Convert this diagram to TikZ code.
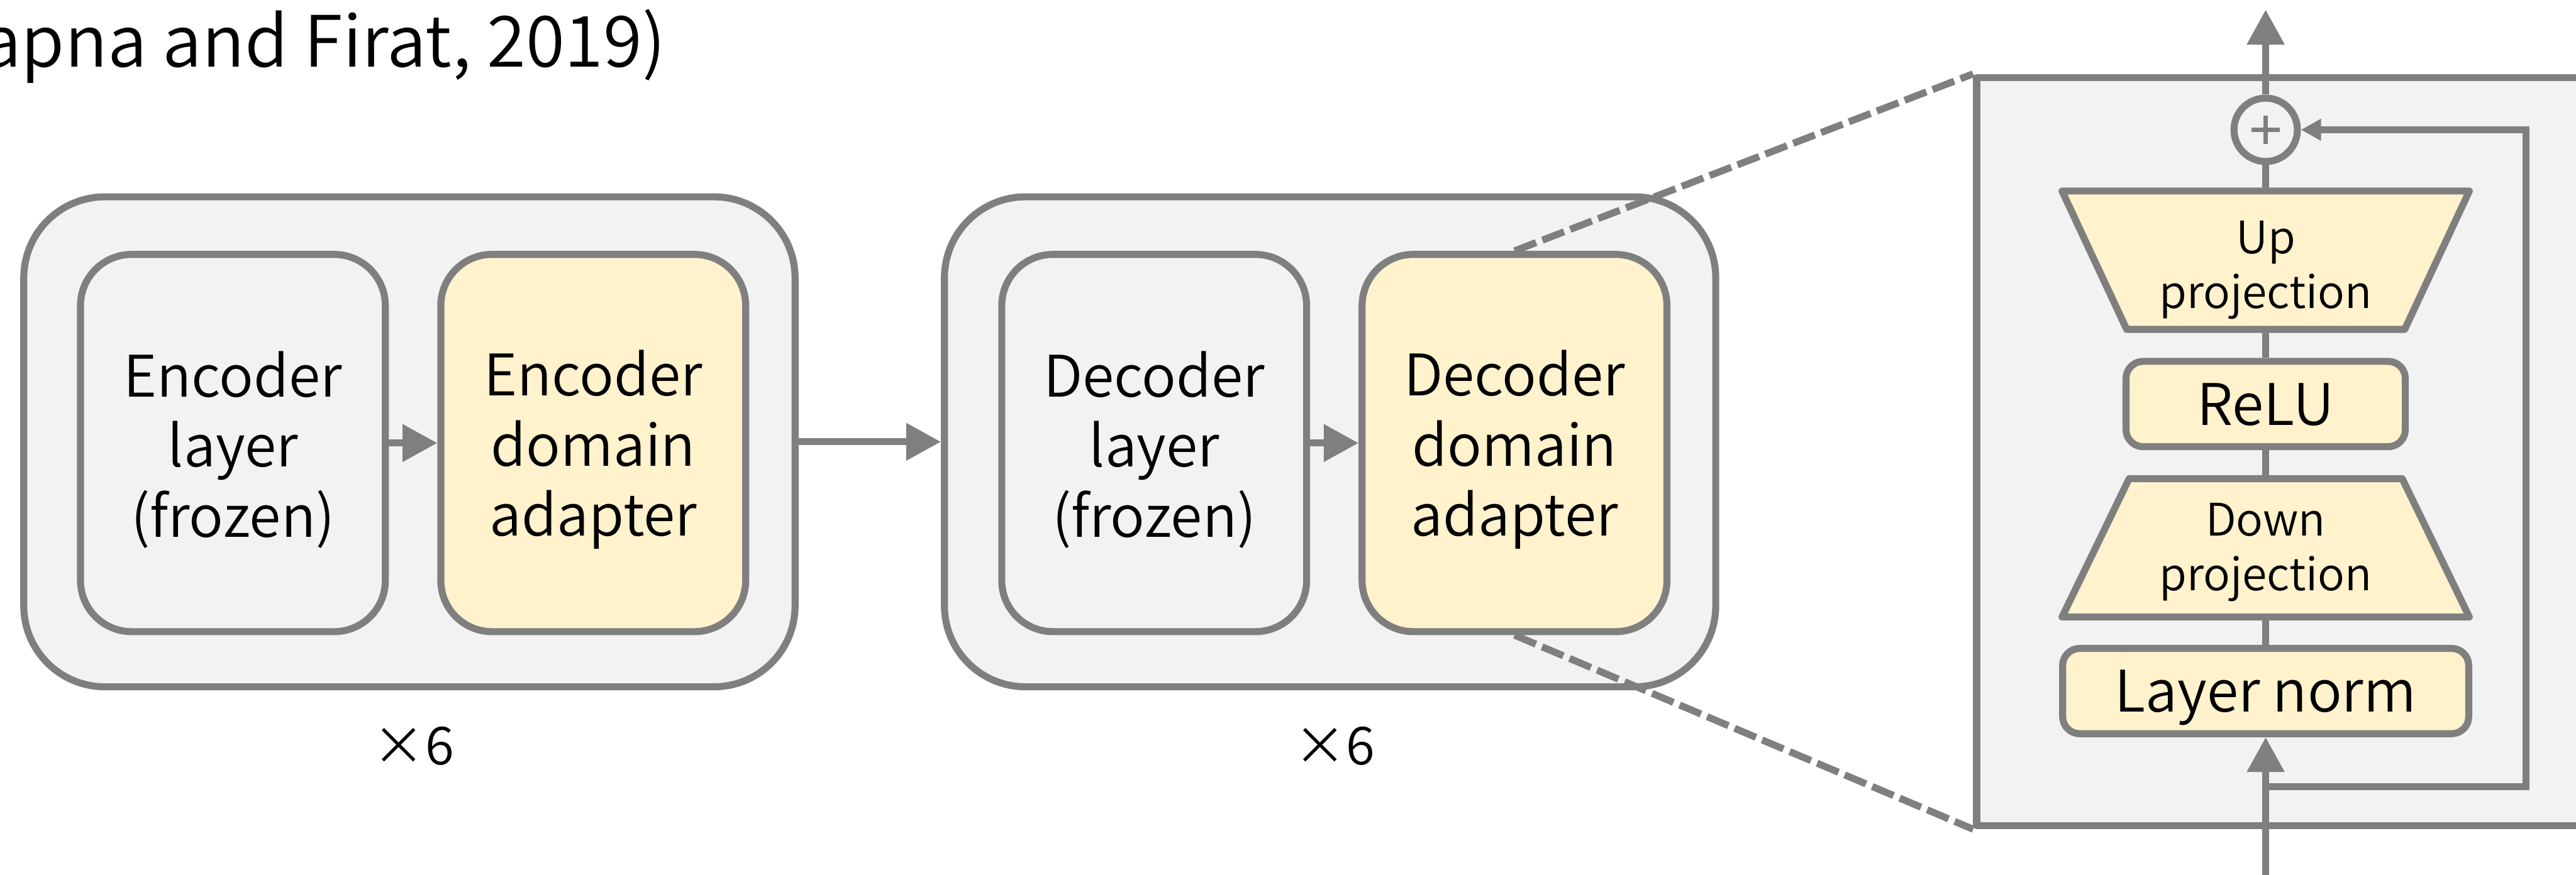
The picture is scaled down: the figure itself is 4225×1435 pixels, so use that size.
\documentclass[tikz,border=0pt]{standalone}
\usepackage{fontspec}
\IfFontExistsTF{Noto Sans CJK KR DemiLight}
  {\setmainfont{Noto Sans CJK KR DemiLight}}
  {\setmainfont{Noto Sans CJK KR}}
\usetikzlibrary{arrows.meta,backgrounds}

\definecolor{edgegray}{RGB}{127,127,127}
\definecolor{panel}{RGB}{242,242,242}
\definecolor{adapt}{RGB}{255,242,204}

\newcommand\txtmain{\fontsize{18.8pt}{23pt}\selectfont}
\newcommand\txtsmall{\fontsize{14.7pt}{18pt}\selectfont}
\newcommand\txtcount{\fontsize{17.2pt}{20pt}\selectfont}
\newcommand\txttitle{\fontsize{23.2pt}{28pt}\selectfont}

\begin{document}
\begin{tikzpicture}[x=0.2pt,y=-0.2pt,
  every node/.style={inner sep=0pt},
  stroke/.style={draw=edgegray, line width=2.3pt},
  block/.style={stroke, fill=panel, rounded corners=26.6pt,
    minimum width=253pt, minimum height=160.8pt},
  layerbox/.style={stroke, rounded corners=16.8pt,
    minimum width=100pt, minimum height=123.8pt},
  frozenbox/.style={layerbox, fill=panel},
  adapterbox/.style={layerbox, fill=adapt},
  boxlabel/.style={align=center, font=\txtmain},
  opbox/.style={stroke, fill=adapt, rounded corners=5.6pt,
    minimum height=28pt, font=\txtmain, text height=13.8pt, text depth=0pt},
  trapslot/.style={minimum width=133.2pt, minimum height=45pt},
  traplabel/.style={align=center, font=\txtsmall},
  trapfill/.style={stroke, fill=adapt, line join=round},
  link/.style={stroke},
  arrow/.style={stroke, -{Triangle[length=11.4pt,width=11.8pt]}},
  smallarrow/.style={stroke, -{Triangle[length=6.6pt,width=6.8pt]}},
  dashline/.style={stroke, dash pattern=on 7.6pt off 2.2pt},
  sumnode/.style={circle, stroke, fill=panel, minimum size=20.8pt,
    path picture={
      \draw[edgegray, line width=1.4pt]
        (path picture bounding box.center) +(-4.6pt,0) -- +(4.6pt,0)
        (path picture bounding box.center) +(0,-4.6pt) -- +(0,4.6pt);}},
]
\useasboundingbox (0,0) rectangle (4225,1435);

% citation, running off the left edge
\node[font=\txttitle, anchor=base east] (cite) at (1093,110) {(Bapna and Firat, 2019)};

% encoder stack
\node[block] (encblock) at (671.5,725) {};
\node[frozenbox] (enclayer) at (382,727) {};
\node[adapterbox] (encadapt) at (973,727) {};
\node[boxlabel] (enclayertxt) at (382,738) {Encoder\\layer\\(frozen)};
\node[boxlabel] (encadapttxt) at (973,738) {Encoder\\domain\\adapter};
\draw[arrow] (enclayer) -- (encadapt);
\node[font=\txtcount, anchor=base] (encrep) at (678,1255) {×6};

% decoder stack
\node[block] (decblock) at (2181.5,725) {};
\node[frozenbox] (declayer) at (1893,727) {};
\node[adapterbox] (decadapt) at (2484,727) {};
\node[boxlabel] (declayertxt) at (1893,738) {Decoder\\layer\\(frozen)};
\node[boxlabel] (decadapttxt) at (2484,738) {Decoder\\domain\\adapter};
\draw[arrow] (declayer) -- (decadapt);
\node[font=\txtcount, anchor=base] (decrep) at (2189,1255) {×6};

\draw[arrow] (encblock) -- (decblock);

% detail of one adapter
\begin{pgfonlayer}{background}
  \node[stroke, fill=panel, line join=round, minimum width=231.6pt,
        minimum height=245.6pt] (zoombox) at (3821,741) {};
\end{pgfonlayer}

\draw[dashline] (decadapt.north) -- (zoombox.north west);
\draw[dashline] (decadapt.south) -- (zoombox.south west);

\node[sumnode] (plus) at (3716,213) {};
\node[trapslot] (up) at (3716,427) {};
\node[traplabel] (uptxt) at (3716,443) {Up\\projection};
\node[opbox, minimum width=91.6pt] (relu) at (3716,663) {ReLU};
\node[trapslot] (down) at (3716,899) {};
\node[traplabel] (downtxt) at (3716,906) {Down\\projection};
\node[opbox, minimum width=133.2pt] (ln) at (3716,1134) {Layer norm};

\begin{pgfonlayer}{background}
  \path[trapfill] (up.north west) -- (up.north east)
    -- ([xshift=-21.2pt]up.south east) -- ([xshift=21.2pt]up.south west) -- cycle;
  \path[trapfill] ([xshift=22pt]down.north west) -- ([xshift=-22pt]down.north east)
    -- (down.south east) -- (down.south west) -- cycle;
\end{pgfonlayer}

\coordinate (inlet) at (3716,1440);
\coordinate (split) at (3716,1291);
\coordinate (rc) at (4143,1291);
\coordinate (outlet) at (3716,16);

\draw[arrow] (inlet) -- (ln);
\draw[link] (ln) -- (down);
\draw[link] (down) -- (relu);
\draw[link] (relu) -- (up);
\draw[link] (up) -- (plus);
\draw[arrow] (plus) -- (outlet);
\draw[smallarrow] (split) -- (rc) |- (plus);
\end{tikzpicture}
\end{document}
